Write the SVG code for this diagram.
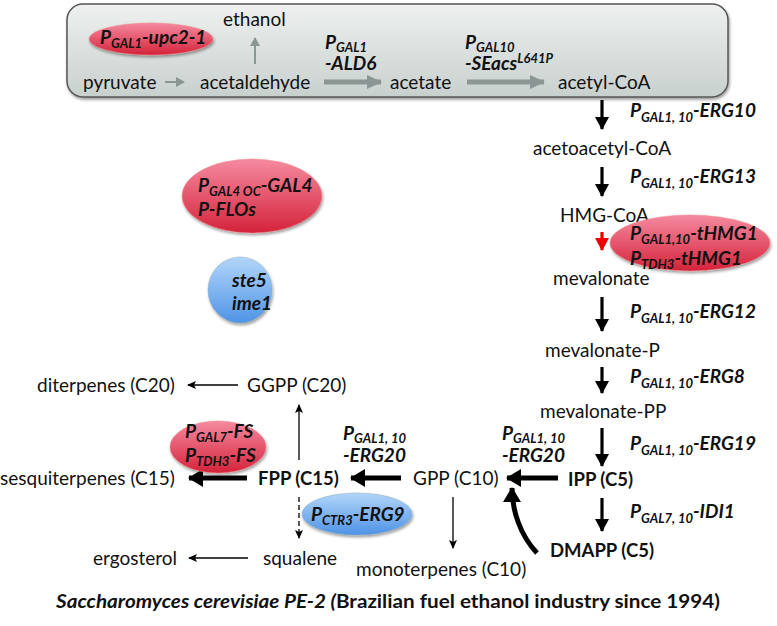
<svg xmlns="http://www.w3.org/2000/svg" width="777" height="626" viewBox="0 0 777 626">
<defs>
<linearGradient id="boxg" x1="0" y1="0" x2="0" y2="1"><stop offset="0" stop-color="#eef1ef"/><stop offset="1" stop-color="#c8d0cd"/></linearGradient>
<linearGradient id="redg" x1="0" y1="0" x2="0" y2="1"><stop offset="0" stop-color="#f58aa0"/><stop offset="1" stop-color="#d4233a"/></linearGradient>
<linearGradient id="blueg" x1="0" y1="0" x2="0" y2="1"><stop offset="0" stop-color="#b3d6fa"/><stop offset="1" stop-color="#4f93e6"/></linearGradient>
<filter id="sh" x="-10%" y="-10%" width="130%" height="140%"><feGaussianBlur in="SourceAlpha" stdDeviation="1.5"/><feOffset dx="1" dy="2"/><feComponentTransfer><feFuncA type="linear" slope="0.4"/></feComponentTransfer><feMerge><feMergeNode/><feMergeNode in="SourceGraphic"/></feMerge></filter>
<marker id="mb" markerUnits="userSpaceOnUse" markerWidth="14" markerHeight="14" refX="12" refY="7" orient="auto"><path d="M0,0 L13,7 L0,14 Z" fill="#000"/></marker>
<marker id="mt" markerUnits="userSpaceOnUse" markerWidth="9" markerHeight="8" refX="8" refY="4" orient="auto"><path d="M0,0 L9,4 L0,8 L2,4 Z" fill="#000"/></marker>
<marker id="mr" markerUnits="userSpaceOnUse" markerWidth="14" markerHeight="14" refX="12" refY="7" orient="auto"><path d="M0,0 L13,7 L0,14 Z" fill="#f00000"/></marker>
<marker id="mg" markerUnits="userSpaceOnUse" markerWidth="16" markerHeight="16" refX="14" refY="8" orient="auto"><path d="M0,1 L15,8 L0,15 Z" fill="#8b9694"/></marker>
<marker id="mgs" markerUnits="userSpaceOnUse" markerWidth="9" markerHeight="10" refX="8" refY="5" orient="auto"><path d="M0,0 L9,5 L0,10 Z" fill="#8b9694"/></marker>
<marker id="mk" markerUnits="userSpaceOnUse" markerWidth="16" markerHeight="18" refX="14" refY="9" orient="auto"><path d="M0,0 L15,9 L0,18 Z" fill="#000"/></marker>
</defs>
<style>
text{font-family:Lato,"Open Sans","Liberation Sans",sans-serif;fill:#111}
.n{font-size:19px}
.b{font-size:19px;font-weight:bold;font-style:italic}
.s{font-size:13px}
.bn{font-size:18.5px;font-weight:bold}
.thin{stroke:#000;stroke-width:1.3;fill:none;marker-end:url(#mt)}
.vert{stroke:#000;stroke-width:3.2;fill:none;marker-end:url(#mb)}
.thick{stroke:#000;stroke-width:5;fill:none;marker-end:url(#mk)}
.gthick{stroke:#8b9694;stroke-width:5;fill:none;marker-end:url(#mg)}
.gthin{stroke:#8b9694;stroke-width:2;fill:none;marker-end:url(#mgs)}
.re{fill:url(#redg);stroke:#e88;stroke-width:0.5}
.be{fill:url(#blueg);stroke:#8ab;stroke-width:0.5}
</style>

<g id="box"><rect x="67" y="4" width="661" height="93" rx="16" fill="url(#boxg)" stroke="#555" stroke-width="1.5" filter="url(#sh)"/></g>

<g id="connectors">
<line class="gthin" x1="165" y1="82" x2="184" y2="82"/>
<line class="gthin" x1="255" y1="64" x2="255" y2="38"/>
<line class="gthick" x1="324" y1="82" x2="381" y2="82"/>
<line class="gthick" x1="467" y1="82" x2="544" y2="82"/>
<line class="vert" x1="602" y1="100" x2="602" y2="129"/>
<line class="vert" x1="602" y1="167" x2="602" y2="196"/>
<line stroke="#f00000" stroke-width="3.2" x1="602" y1="232" x2="602" y2="250" marker-end="url(#mr)"/>
<line class="vert" x1="602" y1="297" x2="602" y2="331"/>
<line class="vert" x1="602" y1="367" x2="602" y2="393"/>
<line class="vert" x1="602" y1="428" x2="602" y2="466"/>
<line class="vert" x1="602" y1="498" x2="602" y2="531"/>
<line class="thick" x1="558" y1="478" x2="507" y2="478"/>
<path class="thick" d="M537,553 C520,535 512,510 512,488" stroke-width="4.5"/>
<line class="thick" x1="401" y1="478" x2="351" y2="478"/>
<line class="thick" x1="247" y1="478" x2="189" y2="478"/>
<line class="thin" x1="299" y1="460" x2="299" y2="405"/>
<line class="thin" x1="238" y1="385" x2="188" y2="385"/>
<line class="thin" x1="299" y1="497" x2="299" y2="538" stroke-dasharray="5,3"/>
<line class="thin" x1="453" y1="497" x2="453" y2="548"/>
<line class="thin" x1="248" y1="558" x2="189" y2="558"/>
</g>

<g id="upc2"><ellipse class="re" cx="151" cy="39" rx="62" ry="16" filter="url(#sh)"/>
<text x="100" y="44" class="b">P<tspan class="s" dy="4">GAL1</tspan><tspan dy="-4">-upc2-1</tspan></text></g>
<g id="ethanol"><text x="223" y="26" class="n">ethanol</text></g>
<g id="pyruvate"><text x="83" y="89" class="n">pyruvate</text></g>
<g id="acetaldehyde"><text x="200" y="89" class="n">acetaldehyde</text></g>
<g id="ald6"><text x="325" y="49" class="b">P<tspan class="s" dy="3">GAL1</tspan></text><text x="325" y="70" class="b">-ALD6</text></g>
<g id="acetate"><text x="390" y="89" class="n">acetate</text></g>
<g id="seacs"><text x="465" y="49" class="b">P<tspan class="s" dy="3">GAL10</tspan></text><text x="465" y="70" class="b">-SEacs<tspan class="s" dy="-7">L641P</tspan></text></g>
<g id="acetylcoa"><text x="558" y="89" class="n">acetyl-CoA</text></g>

<g id="erg10"><text x="630" y="117" class="b">P<tspan class="s" dy="5">GAL1, 10</tspan><tspan dy="-5">-ERG10</tspan></text></g>
<g id="acetoacetylcoa"><text x="533" y="155" class="n">acetoacetyl-CoA</text></g>
<g id="erg13"><text x="630" y="183" class="b">P<tspan class="s" dy="5">GAL1, 10</tspan><tspan dy="-5">-ERG13</tspan></text></g>
<g id="hmgcoa"><text x="560" y="222" class="n">HMG-CoA</text></g>
<g id="thmg1"><ellipse class="re" cx="690" cy="243" rx="80" ry="28" filter="url(#sh)"/>
<text x="630" y="240" class="b">P<tspan class="s" dy="4">GAL1,10</tspan><tspan dy="-4">-tHMG1</tspan></text>
<text x="630" y="265" class="b">P<tspan class="s" dy="4">TDH3</tspan><tspan dy="-4">-tHMG1</tspan></text></g>
<g id="mevalonate"><text x="553" y="285" class="n">mevalonate</text></g>
<g id="erg12"><text x="630" y="318" class="b">P<tspan class="s" dy="5">GAL1, 10</tspan><tspan dy="-5">-ERG12</tspan></text></g>
<g id="mevalonatep"><text x="545" y="357" class="n">mevalonate-P</text></g>
<g id="erg8"><text x="630" y="383" class="b">P<tspan class="s" dy="5">GAL1, 10</tspan><tspan dy="-5">-ERG8</tspan></text></g>
<g id="mevalonatepp"><text x="540" y="418" class="n">mevalonate-PP</text></g>
<g id="erg19"><text x="630" y="450" class="b">P<tspan class="s" dy="5">GAL1, 10</tspan><tspan dy="-5">-ERG19</tspan></text></g>
<g id="ipp"><text x="568" y="486" class="bn">IPP (C5)</text></g>
<g id="idi1"><text x="630" y="518" class="b">P<tspan class="s" dy="5">GAL7, 10</tspan><tspan dy="-5">-IDI1</tspan></text></g>
<g id="dmapp"><text x="550" y="557" class="bn">DMAPP (C5)</text></g>
<g id="erg20b"><text x="502" y="440" class="b">P<tspan class="s" dy="3">GAL1, 10</tspan></text><text x="502" y="462" class="b">-ERG20</text></g>
<g id="gpp"><text x="413" y="485" class="n">GPP (C10)</text></g>
<g id="monoterpenes"><text x="356" y="576" class="n">monoterpenes (C10)</text></g>
<g id="erg20a"><text x="343" y="440" class="b">P<tspan class="s" dy="3">GAL1, 10</tspan></text><text x="343" y="462" class="b">-ERG20</text></g>
<g id="fpp"><text x="258" y="485" class="bn">FPP (C15)</text></g>
<g id="ggpp"><text x="247" y="392" class="n">GGPP (C20)</text></g>
<g id="diterpenes"><text x="37" y="392" class="n">diterpenes (C20)</text></g>
<g id="fs"><ellipse class="re" cx="218" cy="447" rx="48" ry="26" filter="url(#sh)"/>
<text x="185" y="438" class="b">P<tspan class="s" dy="4">GAL7</tspan><tspan dy="-4">-FS</tspan></text>
<text x="185" y="462" class="b">P<tspan class="s" dy="4">TDH3</tspan><tspan dy="-4">-FS</tspan></text></g>
<g id="sesquiterpenes"><text x="0" y="485" class="n">sesquiterpenes (C15)</text></g>
<g id="erg9"><ellipse class="be" cx="357" cy="514" rx="55" ry="21" filter="url(#sh)"/>
<text x="311" y="521" class="b">P<tspan class="s" dy="4">CTR3</tspan><tspan dy="-4">-ERG9</tspan></text></g>
<g id="squalene"><text x="263" y="565" class="n">squalene</text></g>
<g id="ergosterol"><text x="93" y="565" class="n">ergosterol</text></g>
<g id="gal4"><ellipse class="re" cx="252" cy="196" rx="70" ry="37" filter="url(#sh)"/>
<text x="198" y="192" class="b">P<tspan class="s" dy="4">GAL4 OC</tspan><tspan dy="-4">-GAL4</tspan></text>
<text x="198" y="216" class="b">P-FLOs</text></g>
<g id="ste5"><ellipse class="be" cx="240" cy="290" rx="32" ry="33" filter="url(#sh)"/>
<text x="232" y="287" class="b">ste5</text><text x="232" y="310" class="b">ime1</text></g>
<g id="caption"><text x="56" y="608" class="bn" font-size="19" textLength="664" lengthAdjust="spacingAndGlyphs"><tspan font-style="italic">Saccharomyces cerevisiae PE-2 (</tspan>Brazilian fuel ethanol industry since 1994)</text></g>
</svg>
